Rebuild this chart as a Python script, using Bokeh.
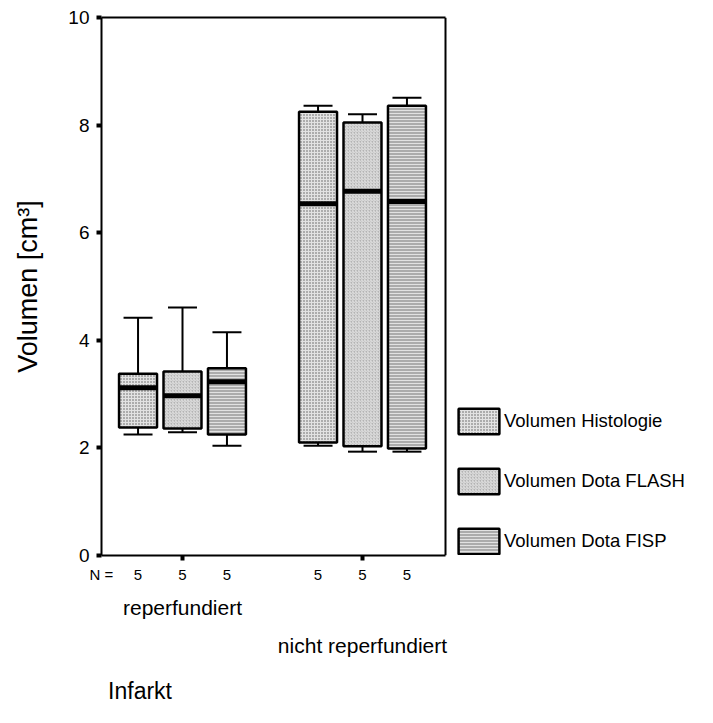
from bokeh.plotting import figure
from bokeh.models import (Range1d, FixedTicker, Legend, LegendItem,
                          LinearAxis, ColumnDataSource)
from bokeh.embed import file_html
from bokeh.resources import INLINE

# ---------------- data ----------------
groups = ["reperfundiert", "nicht reperfundiert"]
group_pos = [1, 2]
series = ["Volumen Histologie", "Volumen Dota FLASH", "Volumen Dota FISP"]

hist_lower = [2.25, 2.04]
hist_q1 = [2.38, 2.10]
hist_median = [3.12, 6.54]
hist_q3 = [3.38, 8.25]
hist_upper = [4.42, 8.36]

flash_lower = [2.29, 1.93]
flash_q1 = [2.36, 2.03]
flash_median = [2.97, 6.77]
flash_q3 = [3.42, 8.05]
flash_upper = [4.61, 8.20]

fisp_lower = [2.04, 1.93]
fisp_q1 = [2.25, 1.99]
fisp_median = [3.23, 6.58]
fisp_q3 = [3.48, 8.36]
fisp_upper = [4.15, 8.51]

n_hist = [5, 5]
n_flash = [5, 5]
n_fisp = [5, 5]

y_ticks = [0, 2, 4, 6, 8, 10]
x_title = "Infarkt"
y_title = "Volumen [cm³]"

stats = [
    (hist_lower, hist_q1, hist_median, hist_q3, hist_upper, n_hist),
    (flash_lower, flash_q1, flash_median, flash_q3, flash_upper, n_flash),
    (fisp_lower, fisp_q1, fisp_median, fisp_q3, fisp_upper, n_fisp),
]

# ---------------- styling ----------------
FONT = "Liberation Sans"
offsets = [-0.247, 0.0, 0.247]
box_w = 0.211
cap_w = 0.161
styles = [
    dict(fill_color="#acacac", hatch_pattern="cross", hatch_color="#e2e2e2",
         hatch_scale=3, hatch_weight=1),
    dict(fill_color="#b4b4b4", hatch_pattern="right_diagonal_line",
         hatch_color="#e4e4e4", hatch_scale=3, hatch_weight=1),
    dict(fill_color="#acacac", hatch_pattern="horizontal_line",
         hatch_color="#e2e2e2", hatch_scale=3, hatch_weight=1),
]

W, H = 697, 707
left_b, right_b, top_b, bottom_b = 101, 6, 17, 152
px_per_unit = 180.0
x0 = 0.55                      # left edge of the plot box
box_end = 2.461                # right edge of the plot box
x_end = x0 + (W - left_b - right_b) / px_per_unit   # frame extends to the legend

p = figure(width=W, height=H, output_backend="svg", toolbar_location=None,
           x_range=Range1d(x0, x_end), y_range=Range1d(0, 10),
           min_border_left=left_b, min_border_right=right_b,
           min_border_top=top_b, min_border_bottom=bottom_b)
p.xgrid.visible = False
p.ygrid.visible = False
p.outline_line_color = None

# y axis
ya = p.yaxis[0]
ya.ticker = FixedTicker(ticks=y_ticks)
ya.axis_label = y_title
ya.axis_label_text_font = FONT
ya.axis_label_text_font_size = "27px"
ya.axis_label_text_font_style = "normal"
ya.axis_label_text_color = "black"
ya.axis_label_standoff = 22
ya.major_label_text_font = FONT
ya.major_label_text_font_size = "19px"
ya.major_label_text_color = "black"
ya.major_label_standoff = 7
ya.major_tick_in = 0
ya.major_tick_out = 5
ya.major_tick_line_width = 4
ya.minor_tick_line_color = None
ya.axis_line_width = 2

# x axis: group tick marks only, line limited to the plot box
xa = p.xaxis[0]
xa.ticker = FixedTicker(ticks=group_pos)
xa.bounds = (x0, box_end)
xa.major_label_overrides = {g: "" for g in group_pos}
xa.major_label_text_font_size = "1px"
xa.major_label_standoff = 5
xa.major_tick_in = 0
xa.major_tick_out = 5
xa.major_tick_line_width = 4
xa.minor_tick_line_color = None
xa.axis_line_width = 2

# top and right border of the plot box
top_ax = LinearAxis(ticker=FixedTicker(ticks=[]), bounds=(x0, box_end),
                    axis_line_width=2, major_tick_line_color=None,
                    minor_tick_line_color=None, major_tick_out=0,
                    major_label_text_font_size="1px")
p.add_layout(top_ax, "above")
right_ax = LinearAxis(ticker=FixedTicker(ticks=[]), bounds=(0, 10),
                      fixed_location=box_end, axis_line_width=2,
                      major_tick_line_color=None, minor_tick_line_color=None,
                      major_tick_out=0, major_label_text_font_size="1px")
p.add_layout(right_ax, "right")

items = []
box_x = []
box_n = []
for i, (lo, q1, med, q3, hi, nn) in enumerate(stats):
    xs = [g + offsets[i] for g in group_pos]
    box_x += xs
    box_n += nn
    src = ColumnDataSource(dict(
        x=xs, lo=lo, q1=q1, med=med, q3=q3, hi=hi,
        c0=[x - cap_w / 2 for x in xs], c1=[x + cap_w / 2 for x in xs],
        b0=[x - box_w / 2 for x in xs], b1=[x + box_w / 2 for x in xs]))
    for ya0, ya1 in (("q3", "hi"), ("q1", "lo")):
        p.segment(x0="x", y0=ya0, x1="x", y1=ya1, source=src,
                  line_color="black", line_width=2)
    for yc in ("hi", "lo"):
        p.segment(x0="c0", y0=yc, x1="c1", y1=yc, source=src,
                  line_color="black", line_width=2)
    r = p.vbar(x="x", width=box_w, bottom="q1", top="q3", source=src,
               line_color="black", line_width=2.5, **styles[i])
    p.segment(x0="b0", y0="med", x1="b1", y1="med", source=src,
              line_color="black", line_width=5, line_cap="butt")
    items.append(LegendItem(label=series[i], renderers=[r]))

def text_axis(ticks, labels, size, standoff):
    ax = LinearAxis(ticker=FixedTicker(ticks=ticks),
                    major_label_overrides=dict(zip(ticks, labels)),
                    axis_line_color=None, major_tick_line_color=None,
                    minor_tick_line_color=None, major_tick_in=0,
                    major_tick_out=0, major_label_standoff=standoff,
                    major_label_text_font=FONT,
                    major_label_text_font_size=size,
                    major_label_text_color="black")
    p.add_layout(ax, "below")
    return ax

edge = x0 + 1e-9
# N row
text_axis([edge] + box_x, ["N ="] + [str(n) for n in box_n], "15px", 5)
# group names, staggered
text_axis([group_pos[0]], [groups[0]], "21px", 10)
text_axis([group_pos[1]], [groups[1]], "21px", 12)
# x title, near the left edge of the plot box
text_axis([x0 + 0.214], [x_title], "23px", 18)

legend = Legend(items=items, location=(352, -2), orientation="vertical",
                glyph_width=51, glyph_height=32, label_height=32, spacing=28,
                padding=0, margin=0, border_line_color=None,
                background_fill_alpha=0, label_text_font=FONT,
                label_text_font_size="18.5px", label_text_color="black",
                label_standoff=0)
p.add_layout(legend)

open("out.html", "w").write(file_html(p, INLINE))
